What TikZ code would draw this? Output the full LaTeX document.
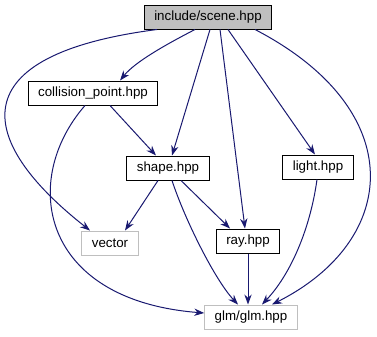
\documentclass[tikz,border=0pt]{standalone}
\usepackage{fontspec}
\setmainfont{Liberation Sans}
\usetikzlibrary{arrows.meta}
\definecolor{edgeblue}{RGB}{25,25,112}
\definecolor{boxgray}{RGB}{191,191,191}

\begin{document}
\begin{tikzpicture}[x=0.75pt, y=-0.75pt,
            file/.style={draw=black, line width=0.75pt, minimum height=18pt, inner xsep=7.5pt, font=\fontsize{10}{12}\selectfont},
            sysfile/.style={file, draw=boxgray},
            edge/.style={draw=edgeblue, line width=0.75pt, -{Stealth[length=7.5pt, width=5.5pt]}}]
            \useasboundingbox (0,0) rectangle (377,336);

            % files
            \node[file, fill=boxgray] (scene) at (208,17) {include/scene.hpp};
            \node[file] (collision) at (93,93) {collision\_point.hpp};
            \node[file] (shape) at (168,168) {shape.hpp};
            \node[file] (light) at (318,167) {light.hpp};
            \node[file] (ray) at (248,241) {ray.hpp};
            \node[sysfile] (vector) at (110,243) {vector};
            \node[sysfile] (glm) at (251,317) {glm/glm.hpp};

            % includes of scene.hpp
            \draw[edge] (scene.south -| 195,0) .. controls (165,45) and (135,62) .. (collision.north -| 120,0);
            \draw[edge] (scene.south -| 157,0) .. controls (-40,55) and (-25,140) .. (vector.north -| 90,0);
            \draw[edge] (scene.south -| 210,0) -- (shape.north -| 172,0);
            \draw[edge] (scene.south -| 220,0) -- (ray.north -| 245,0);
            \draw[edge] (scene.south -| 228,0) -- (light.north -| 315,0);
            \draw[edge] (scene.south -| 255,0) .. controls (410,110) and (400,240) .. (glm.north -| 272,0);

            % includes of the other headers
            \draw[edge] (collision.south -| 110,0) -- (shape.north -| 156,0);
            \draw[edge] (collision.south -| 85,0) .. controls (20,180) and (40,300) .. (glm.west |- 0,313);
            \draw[edge] (shape.south -| 158,0) -- (vector.north -| 125,0);
            \draw[edge] (shape.south -| 181,0) -- (ray.north -| 230,0);
            \draw[edge] (shape.south -| 172,0) .. controls (185,220) and (215,280) .. (glm.north -| 238,0);
            \draw[edge] (ray) -- (glm.north -| 248,0);
            \draw[edge] (light.south -| 317,0) .. controls (310,230) and (290,275) .. (glm.north -| 262,0);
        \end{tikzpicture}
\end{document}
